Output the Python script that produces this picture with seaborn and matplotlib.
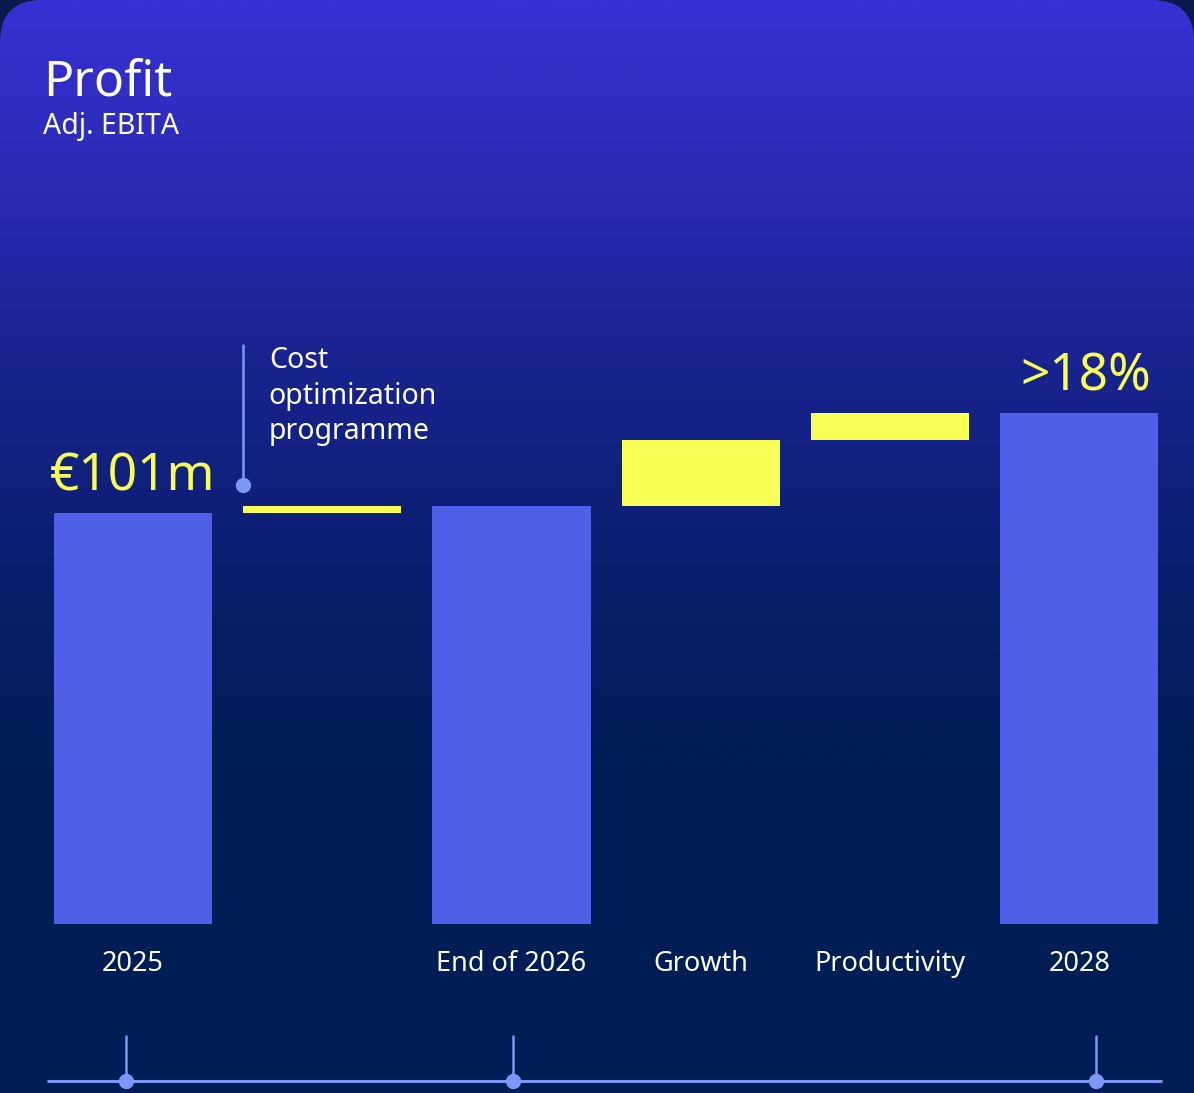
import numpy as np
import pandas as pd
import matplotlib
matplotlib.use("Agg")
import matplotlib.pyplot as plt
from matplotlib.colors import LinearSegmentedColormap
from matplotlib.patches import FancyBboxPatch
import seaborn as sns

# Data (Adj. EBITA waterfall, € m)
categories = ["2025", "Cost optimization", "End of 2026", "Growth", "Productivity", "2028"]
tick_labels = ["2025", "", "End of 2026", "Growth", "Productivity", "2028"]
kinds = ["total", "step", "total", "step", "step", "total"]
values = [101.0, 1.7, np.nan, 16.2, 6.6, np.nan]   # nan = running subtotal
value_labels = ["€101m", "", "", "", "", ">18%"]

# Colours
BAR = "#4F5FE8"
YELLOW = "#F7FF55"
LINE = "#7C97F6"
OUTER = "#0A1A4C"
W, H = 1194, 1093

sns.set_theme(style="white")
plt.rcParams['font.family'] = ['Noto Sans', 'DejaVu Sans']

# build waterfall bottoms / tops
bottoms, tops = [], []
running = 0.0
for k, v in zip(kinds, values):
    if k == "total":
        if not np.isnan(v):
            running = v
        bottoms.append(0.0)
        tops.append(running)
    else:
        bottoms.append(running)
        running += v
        tops.append(running)

df = pd.DataFrame({"category": categories, "top": tops, "bottom": bottoms, "kind": kinds})
palette = {c: (BAR if k == "total" else YELLOW) for c, k in zip(categories, kinds)}

fig = plt.figure(figsize=(W / 100, H / 100), dpi=100, facecolor=OUTER)

# background card with gradient + rounded top corners
bg = fig.add_axes([0, 0, 1, 1], zorder=0)
bg.set_xlim(0, W)
bg.set_ylim(H, 0)
bg.axis("off")
cm = LinearSegmentedColormap.from_list("bg", [
    (0.0, "#3632D3"), (0.15, "#2C2BB8"), (0.32, "#1A2391"), (0.45, "#10207A"),
    (0.58, "#071E64"), (0.70, "#011E57"), (1.0, "#001E55")])
grad = np.linspace(0, 1, 512).reshape(-1, 1)
im = bg.imshow(grad, cmap=cm, extent=(0, W, H, 0), aspect="auto", origin="upper")
card = FancyBboxPatch((0, 0), W, H + 100, boxstyle="round,pad=0,rounding_size=42",
                      transform=bg.transData, facecolor="none", edgecolor="none")
bg.add_patch(card)
im.set_clip_path(card)

# timeline decoration at the bottom
bg.plot([47, 1162], [1081, 1081], color=LINE, lw=2.2, solid_capstyle="butt")
for xp in [126, 513, 1096]:
    bg.plot([xp, xp], [1036, 1081], color=LINE, lw=1.8)
    bg.plot(xp, 1081, "o", color=LINE, ms=10)

# titles
fig.text(43 / W, 1 - 95 / H, "Profit", color="white", fontsize=36, va="baseline")
fig.text(43 / W, 1 - 134 / H, "Adj. EBITA", color="white", fontsize=20.5, va="baseline")

# main chart axes
base_px = 924
px_per_unit = 4.07
slot = 189.25
ax = fig.add_axes([0, (H - base_px) / H, 1, base_px / H], zorder=1)
ax.patch.set_alpha(0)
sns.barplot(data=df, x="category", y="top", hue="category", palette=palette,
            order=categories, hue_order=categories, width=0.835, saturation=1,
            legend=False, ax=ax)
for patch, b, t in zip(ax.patches, bottoms, tops):
    patch.set_y(b)
    patch.set_height(t - b)
    patch.set_edgecolor("none")

ax.set_xlim(-133 / slot, (W - 133) / slot)
ax.set_ylim(0, base_px / px_per_unit)
ax.set_xticks(range(len(categories)), tick_labels)
ax.tick_params(axis="x", length=0, pad=19, labelcolor="white", labelsize=19.5)
ax.yaxis.set_visible(False)
ax.set_xlabel("")
ax.set_ylabel("")
for s in ax.spines.values():
    s.set_visible(False)

# value labels above totals
for i, (lab, t) in enumerate(zip(value_labels, tops)):
    if lab:
        xoff = 0.035 if i == len(tops) - 1 else 0.0
        ax.text(i + xoff, t + 5.6, lab, color=YELLOW, fontsize=37, ha="center", va="baseline")

# cost optimization call-out
i_cost = categories.index("Cost optimization")
x_edge = i_cost - 0.835 / 2
y_dot = tops[i_cost] + 5.2
ax.plot([x_edge, x_edge], [y_dot, 142.3], color=LINE, lw=1.8)
ax.plot(x_edge, y_dot, "o", color=LINE, ms=10)
ax.text(x_edge + 0.135, 142.0, "Cost\noptimization\nprogramme", color="white",
        fontsize=20.5, ha="left", va="top", linespacing=1.3)

fig.savefig("out.png", dpi=100, facecolor=OUTER)
